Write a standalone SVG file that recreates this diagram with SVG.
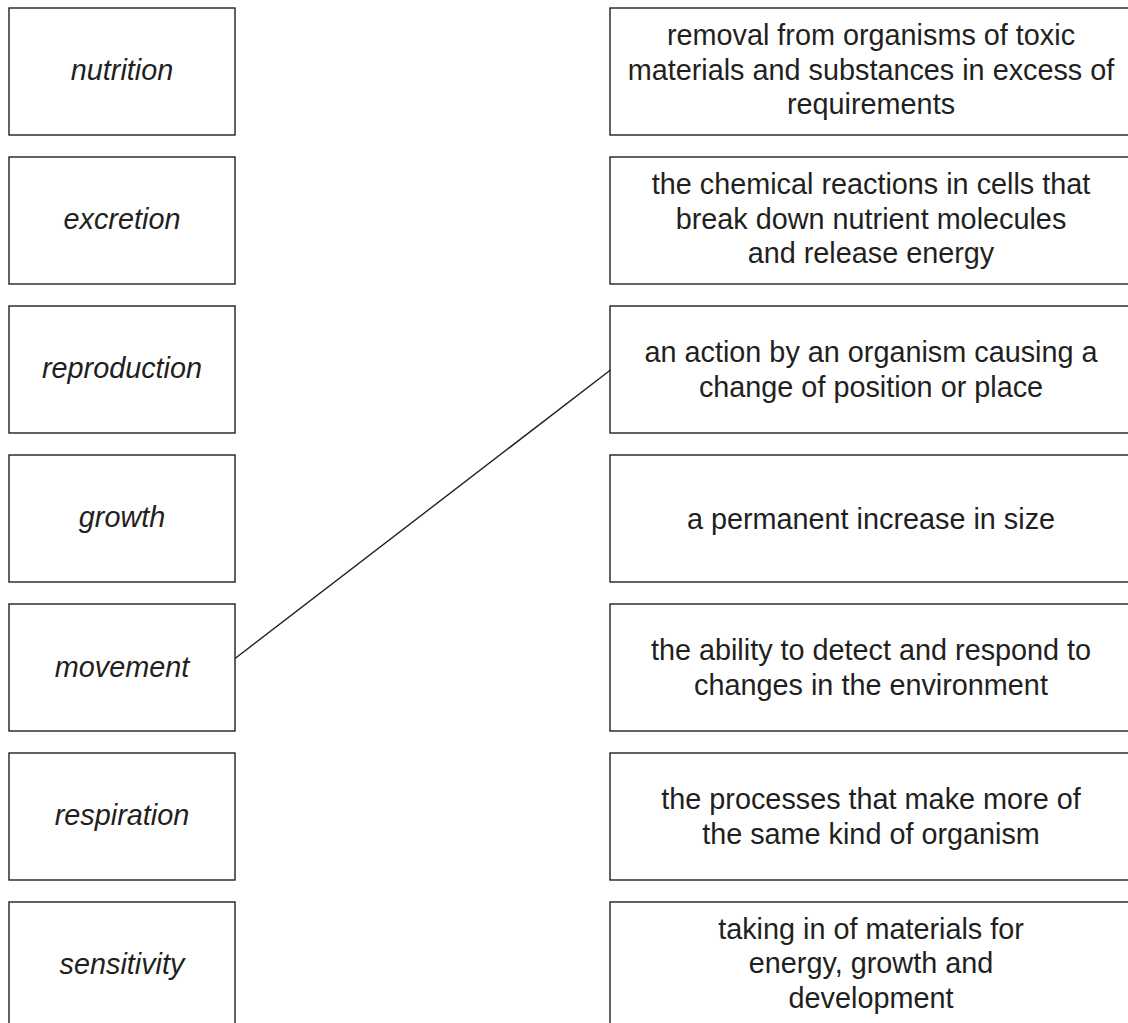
<svg xmlns="http://www.w3.org/2000/svg" width="1128" height="1023" viewBox="0 0 1128 1023">
<style>
.box{fill:#fff;stroke:#231f20;stroke-width:1.4}
.t{font-family:"Liberation Sans",Arial,sans-serif;font-size:28.8px;fill:#231f20;text-anchor:middle}
.i{font-style:italic}
.c{stroke:#231f20;stroke-width:1.4;fill:none}
</style>
<rect width="1128" height="1023" fill="#fff"/>
<g id="left">
<g id="n-nutrition"><rect class="box" x="9" y="8" width="226" height="127"/><text class="t i" x="122" y="80">nutrition</text></g>
<g id="n-excretion"><rect class="box" x="9" y="157" width="226" height="127"/><text class="t i" x="122" y="229">excretion</text></g>
<g id="n-reproduction"><rect class="box" x="9" y="306" width="226" height="127"/><text class="t i" x="122" y="378">reproduction</text></g>
<g id="n-growth"><rect class="box" x="9" y="455" width="226" height="127"/><text class="t i" x="122" y="527">growth</text></g>
<g id="n-movement"><rect class="box" x="9" y="604" width="226" height="127"/><text class="t i" x="122" y="676.5">movement</text></g>
<g id="n-respiration"><rect class="box" x="9" y="753" width="226" height="127"/><text class="t i" x="122" y="825">respiration</text></g>
<g id="n-sensitivity"><rect class="box" x="9" y="902" width="226" height="127"/><text class="t i" x="122" y="974">sensitivity</text></g>
</g>
<g id="right">
<g id="d-excretion"><rect class="box" x="610" y="8" width="524" height="127"/><text class="t" x="871" y="45">removal from organisms of toxic</text><text class="t" x="871" y="79.5">materials and substances in excess of</text><text class="t" x="871" y="114">requirements</text></g>
<g id="d-respiration"><rect class="box" x="610" y="157" width="524" height="127"/><text class="t" x="871" y="193.5">the chemical reactions in cells that</text><text class="t" x="871" y="228.5">break down nutrient molecules</text><text class="t" x="871" y="263">and release energy</text></g>
<g id="d-movement"><rect class="box" x="610" y="306" width="524" height="127"/><text class="t" x="871" y="362">an action by an organism causing a</text><text class="t" x="871" y="397">change of position or place</text></g>
<g id="d-growth"><rect class="box" x="610" y="455" width="524" height="127"/><text class="t" x="871" y="528.5">a permanent increase in size</text></g>
<g id="d-sensitivity"><rect class="box" x="610" y="604" width="524" height="127"/><text class="t" x="871" y="660">the ability to detect and respond to</text><text class="t" x="871" y="695">changes in the environment</text></g>
<g id="d-reproduction"><rect class="box" x="610" y="753" width="524" height="127"/><text class="t" x="871" y="809">the processes that make more of</text><text class="t" x="871" y="844">the same kind of organism</text></g>
<g id="d-nutrition"><rect class="box" x="610" y="902" width="524" height="127"/><text class="t" x="871" y="938.5">taking in of materials for</text><text class="t" x="871" y="973">energy, growth and</text><text class="t" x="871" y="1007.5">development</text></g>
</g>
<g id="connectors">
<line class="c" x1="235" y1="658.5" x2="610.5" y2="370"/>
</g>
</svg>
